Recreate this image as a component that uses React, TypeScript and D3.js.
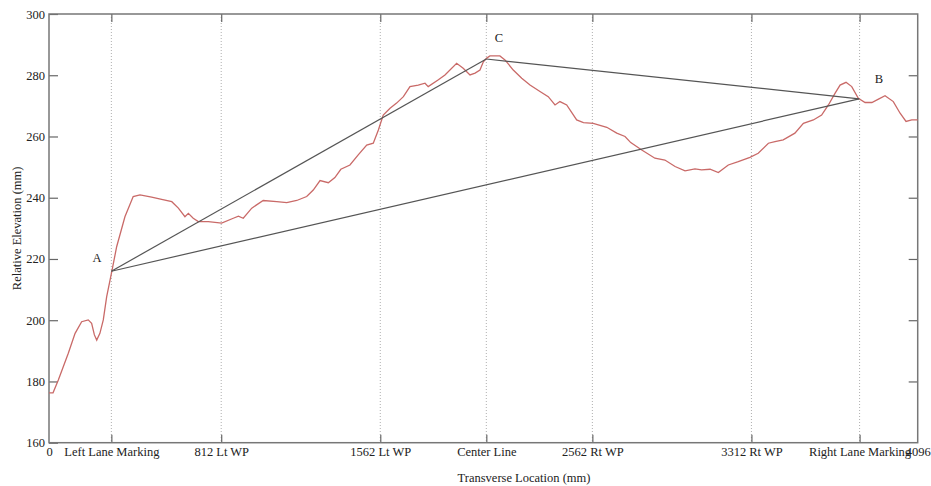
import React, { useEffect, useRef } from 'react';
import * as d3 from 'd3';

// transverse profile (mm across, elevation mm)
const profileX = [0, 19, 44, 91, 123, 154, 185, 201, 214, 225, 240, 256, 272, 296, 319, 358, 397, 429, 484, 531, 579, 610, 641, 657, 680, 704, 751, 814, 869, 893, 916, 956, 1010, 1074, 1121, 1168, 1215, 1246, 1278, 1317, 1348, 1376, 1419, 1458, 1498, 1529, 1553, 1576, 1608, 1639, 1671, 1702, 1741, 1773, 1788, 1836, 1867, 1922, 1953, 1985, 2009, 2032, 2048, 2064, 2079, 2126, 2150, 2189, 2229, 2268, 2315, 2354, 2386, 2409, 2441, 2488, 2520, 2566, 2630, 2677, 2716, 2743, 2795, 2857, 2904, 2952, 2999, 3046, 3077, 3117, 3156, 3203, 3250, 3305, 3344, 3392, 3423, 3462, 3517, 3557, 3604, 3643, 3675, 3706, 3730, 3758, 3785, 3816, 3848, 3880, 3911, 3942, 3981, 4013, 4041, 4068, 4096];
const profileY = [176.3, 176.3, 180.5, 189.2, 195.7, 199.5, 200.1, 199, 195.2, 193.5, 195.7, 200.1, 207.7, 215.9, 224, 233.8, 240.4, 240.9, 240.2, 239.5, 238.7, 236.6, 233.8, 234.9, 233.3, 232.2, 232.2, 231.7, 233.3, 234, 233.3, 236.6, 239.1, 238.7, 238.4, 239.1, 240.4, 242.5, 245.6, 244.9, 246.6, 249.3, 250.7, 254, 257.2, 257.8, 262.1, 267, 269.2, 270.9, 273, 276.3, 276.8, 277.4, 276.3, 278.5, 280.1, 283.9, 282.3, 280.1, 280.7, 281.7, 284.4, 285.6, 286.3, 286.3, 285, 281.7, 279, 276.8, 274.7, 273, 270.3, 271.4, 270.3, 265.4, 264.5, 264.3, 263, 261.1, 260, 258, 255.6, 252.9, 252.3, 250.2, 248.8, 249.4, 249.1, 249.3, 248.2, 250.7, 251.8, 253.2, 254.5, 257.8, 258.3, 258.9, 261.1, 264.3, 265.4, 267, 270.3, 274.1, 276.8, 277.7, 276.3, 272.5, 271.1, 271.1, 272.2, 273.3, 271.4, 267.6, 264.9, 265.4, 265.4];

// x ticks
const tickValues = [0, 294, 812, 1562, 2062, 2562, 3312, 3822, 4096];
const tickLabels = ['0', 'Left Lane Marking', '812 Lt WP', '1562 Lt WP', 'Center Line', '2562 Rt WP', '3312 Rt WP', 'Right Lane Marking', '4096'];
const yTicks = [160, 180, 200, 220, 240, 260, 280, 300];

// triangle A-C-B
const pointNames = ['A', 'C', 'B'];
const pointX = [294, 2062, 3820];
const pointY = [216, 285.3, 272.3];
const labelX = [226, 2122, 3913];
const labelY = [220.3, 292.2, 278.8];

const W = 931, H = 486;
const left = 49, right = 917.7, top = 14, bottom = 442.7;

const App = () => {
  const ref = useRef<SVGSVGElement>(null);

  useEffect(() => {
    const svg = d3.select(ref.current);
    svg.selectAll('*').remove();

    const x = d3.scaleLinear().domain([0, 4096]).range([left, right]);
    const y = d3.scaleLinear().domain([160, 300]).range([bottom, top]);
    const font = '"Liberation Serif", "Times New Roman", serif';

    // dotted verticals
    svg.append('g')
      .selectAll('line')
      .data(tickValues.slice(1, -1))
      .join('line')
      .attr('x1', d => x(d)).attr('x2', d => x(d))
      .attr('y1', top).attr('y2', bottom)
      .attr('stroke', '#9a9a9a')
      .attr('stroke-width', 0.8)
      .attr('stroke-dasharray', '1,2');

    const styleAxis = (g: any) => {
      g.select('.domain').remove();
      g.selectAll('.tick line').attr('stroke', '#666').attr('stroke-width', 1.2);
      g.selectAll('.tick text').attr('fill', '#222').style('font-family', font).style('font-size', '12.5px');
    };

    svg.append('g')
      .attr('transform', `translate(0,${bottom})`)
      .call(d3.axisBottom(x).tickValues(tickValues).tickFormat((d, i) => tickLabels[i]).tickSizeInner(-8).tickSizeOuter(0).tickPadding(4))
      .call(styleAxis);
    // no tick marks at the ends of the x axis
    svg.selectAll('.tick').filter((d: any) => d === 0 || d === 4096).select('line').remove();

    svg.append('g')
      .attr('transform', `translate(0,${top})`)
      .call(d3.axisTop(x).tickValues(tickValues.slice(1, -1)).tickFormat(() => '').tickSizeInner(-8).tickSizeOuter(0))
      .call(styleAxis);

    svg.append('g')
      .attr('transform', `translate(${left},0)`)
      .call(d3.axisLeft(y).tickValues(yTicks).tickFormat(d3.format('d')).tickSizeInner(-9).tickSizeOuter(0).tickPadding(4))
      .call(styleAxis);

    svg.append('g')
      .attr('transform', `translate(${right},0)`)
      .call(d3.axisRight(y).tickValues(yTicks.slice(1, -1)).tickFormat(() => '').tickSizeInner(-9).tickSizeOuter(0))
      .call(styleAxis);

    // frame
    svg.append('rect')
      .attr('x', left).attr('y', top)
      .attr('width', right - left).attr('height', bottom - top)
      .attr('fill', 'none').attr('stroke', '#777').attr('stroke-width', 1.5);

    // profile
    const line = d3.line<number>().x((d, i) => x(profileX[i])).y(d => y(d));
    svg.append('path')
      .attr('d', line(profileY))
      .attr('fill', 'none')
      .attr('stroke', '#c96a68')
      .attr('stroke-width', 1.3);

    // triangle
    const pairs = [[0, 1], [1, 2], [0, 2]];
    svg.append('g')
      .selectAll('line')
      .data(pairs)
      .join('line')
      .attr('x1', d => x(pointX[d[0]])).attr('y1', d => y(pointY[d[0]]))
      .attr('x2', d => x(pointX[d[1]])).attr('y2', d => y(pointY[d[1]]))
      .attr('stroke', '#555')
      .attr('stroke-width', 1.2);

    svg.append('g')
      .selectAll('text')
      .data(pointNames)
      .join('text')
      .attr('x', (d, i) => x(labelX[i]))
      .attr('y', (d, i) => y(labelY[i]))
      .attr('dy', '0.35em')
      .attr('text-anchor', 'middle')
      .style('font-family', font)
      .style('font-size', '12.5px')
      .attr('fill', '#222')
      .text(d => d);

    // axis titles
    svg.append('text')
      .attr('x', 524).attr('y', 482)
      .attr('text-anchor', 'middle')
      .style('font-family', font).style('font-size', '12.5px')
      .attr('fill', '#222')
      .text('Transverse Location (mm)');

    svg.append('text')
      .attr('transform', `translate(21,${(top + bottom) / 2}) rotate(-90)`)
      .attr('text-anchor', 'middle')
      .style('font-family', font).style('font-size', '12.5px')
      .attr('fill', '#222')
      .text('Relative Elevation (mm)');
  }, []);

  return (
    <svg ref={ref} width={W} height={H}
      style={{ position: 'absolute', left: 0, top: 0, background: '#fff' }} />
  );
};

export default App;
